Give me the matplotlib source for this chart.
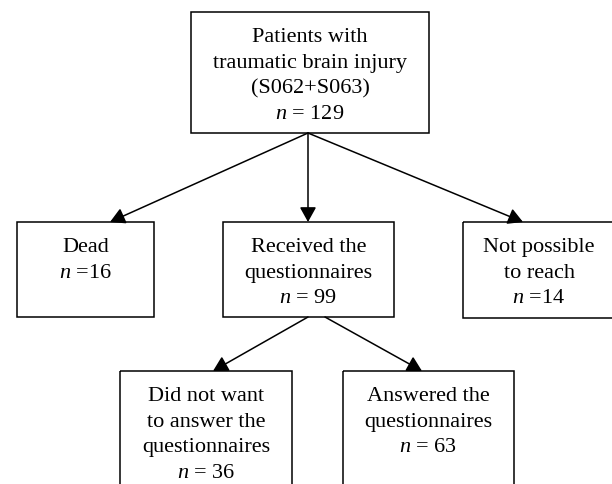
import matplotlib
matplotlib.use("Agg")
import matplotlib.pyplot as plt
from matplotlib.patches import Rectangle

plt.rcParams['font.family'] = ['Liberation Serif', 'DejaVu Serif']
plt.rcParams['mathtext.fontset'] = 'custom'
plt.rcParams['mathtext.rm'] = 'Liberation Serif'
plt.rcParams['mathtext.it'] = 'Liberation Serif:italic'

# ---- data ----
labels = [
    ["Patients with", "traumatic brain injury", "(S062+S063)"],
    ["Dead"],
    ["Received the", "questionnaires"],
    ["Not possible", "to reach"],
    ["Did not want", "to answer the", "questionnaires"],
    ["Answered the", "questionnaires"],
]
counts = [129, 16, 99, 14, 36, 63]
count_sep = [" = ", " =", " = ", " =", " = ", " = "]
# edges: (from node, to node)
edges = [(0, 1), (0, 2), (0, 3), (2, 4), (2, 5)]

# ---- layout (pixel coordinates) ----
boxes = [  # x0, y0, x1, y1
    (191, 13, 429, 134),
    (17, 223, 154, 318),
    (223, 223, 394, 318),
    (463, 223, 620, 319),
    (120, 372, 292, 495),
    (343, 372, 514, 495),
]
text_cx = [310, 85.5, 308.5, 539, 206, 428.5]
edge_start = {(0, 1): (308, 134), (0, 2): (308, 134), (0, 3): (308, 134),
              (2, 4): (308, 318), (2, 5): (325, 318)}
edge_end = {(0, 1): (110, 223), (0, 2): (308, 223), (0, 3): (523, 223),
            (2, 4): (213, 372), (2, 5): (422, 372)}

fig = plt.figure(figsize=(6.12, 4.85), dpi=100)
ax = fig.add_axes([0, 0, 1, 1])
ax.set_xlim(0, 612)
ax.set_ylim(485, 0)
ax.axis('off')

fs = 16
first_base = 29
line_gap = 25.7

for i, (x0, y0, x1, y1) in enumerate(boxes):
    ax.add_patch(Rectangle((x0, y0), x1 - x0, y1 - y0, fill=False,
                           edgecolor='black', lw=1.1, zorder=2))
    lines = labels[i] + ["$n$" + count_sep[i] + str(counts[i])]
    for k, ln in enumerate(lines):
        ax.text(text_cx[i], y0 + first_base + k * line_gap, ln, ha='center',
                va='baseline', fontsize=fs, color='black')

for e in edges:
    ax.annotate('', xy=edge_end[e], xytext=edge_start[e],
                arrowprops=dict(arrowstyle='-|>,head_length=0.9,head_width=0.5',
                                color='black', lw=1.1, shrinkA=0, shrinkB=0,
                                mutation_scale=10))

fig.savefig('out.png', dpi=100, facecolor='white')
